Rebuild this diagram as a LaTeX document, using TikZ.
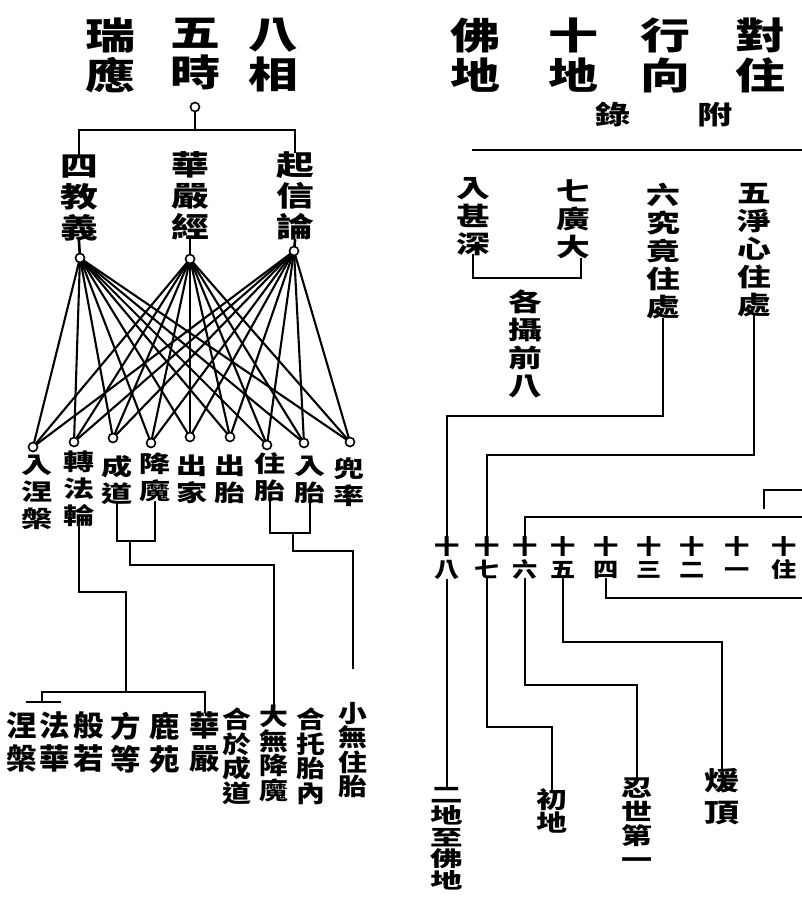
\documentclass[tikz,border=0pt]{standalone}
\usepackage{fontspec}
\newfontfamily\cjkA{Noto Sans CJK TC}[FakeStretch=1.35]
\newfontfamily\cjkB{Noto Sans CJK TC}[FakeStretch=1.05]
\newfontfamily\cjkC{Noto Sans CJK TC}[FakeStretch=1.2]
\newfontfamily\cjkD{Noto Sans CJK TC}[FakeStretch=1.55]
\tikzset{
  vt/.style={inner sep=0pt, outer sep=0pt, align=center, anchor=north},
  title/.style={vt, font=\cjkA\bfseries\fontsize{37}{40}\selectfont},
  sub/.style={inner sep=0pt, font=\cjkA\bfseries\fontsize{26}{28}\selectfont},
  mid/.style={vt, font=\cjkA\bfseries\fontsize{28}{31}\selectfont},
  low/.style={vt, font=\cjkA\bfseries\fontsize{23}{27}\selectfont},
  bltwo/.style={vt, font=\cjkB\bfseries\fontsize{29}{33}\selectfont},
  blfour/.style={vt, font=\cjkC\bfseries\fontsize{24}{24.5}\selectfont},
  rlab/.style={vt, font=\cjkA\bfseries\fontsize{25}{28}\selectfont},
  num/.style={vt, font=\cjkC\bfseries\fontsize{21}{23}\selectfont},
  ln/.style={line width=2.6pt, line cap=rect},
  cross/.style={line width=2.1pt},
  dot/.style={circle, draw, line width=1.6pt, minimum size=9pt, inner sep=0pt, fill=white}
}
\begin{document}
\begin{tikzpicture}[x=1pt,y=-1pt]
\useasboundingbox (0,0) rectangle (802,900);
% ---------- left titles
\node[title] (tbx) at (273,18) {八\\相};
\node[title] (twu) at (195,18) {五\\時};
\node[title] (tru) at (110,18) {瑞\\應};
% ---------- right titles
\node[title] (tdz) at (760,18) {對\\住};
\node[title] (txx) at (665,18) {行\\向};
\node[title] (tsd) at (573,18) {十\\地};
\node[title] (tfd) at (475,18) {佛\\地};
\node[sub] (fu) at (715,115) {附};
\node[sub] (lu) at (613,115) {錄};
\coordinate (hla) at (473,150); \coordinate (hlb) at (802,150);
\draw[ln] (hla) -- (hlb);
% ---------- top-left tree
\coordinate (hm) at (195,130);
\coordinate (hL) at (79,130); \coordinate (hR) at (295,130);
\draw[ln] (195,107) -- (hm);
\draw[ln] (hL) -- (hR);
\node[dot] (c0) at (195,107) {};
\node[mid] (sj) at (79,155) {四\\教\\義};
\node[mid] (hy) at (190,152) {華\\嚴\\經};
\node[mid] (qx) at (295,152) {起\\信\\論};
\draw[ln] (hL) -- (sj.north);
\draw[ln] (hR) -- (qx.north);
\coordinate (A) at (80,258);
\coordinate (B) at (190,259);
\coordinate (C) at (294,251);
\draw[ln] (sj.south) -- (A);
\draw[ln] (hy.south) -- (B);
\draw[ln] (qx.south) -- (C);
% bottom circle centres
\coordinate (b1) at (33,447);
\coordinate (b2) at (74,442);
\coordinate (b3) at (113,438);
\coordinate (b4) at (151,443);
\coordinate (b5) at (190,437);
\coordinate (b6) at (230,437);
\coordinate (b7) at (267,445);
\coordinate (b8) at (304,443);
\coordinate (b9) at (350,442);
\foreach \t in {A,B,C}{
  \foreach \b in {b1,b2,b3,b4,b5,b6,b7,b8,b9}{
    \draw[cross] (\t) -- (\b);
  }
}
\foreach \n in {A,B,C,b1,b2,b3,b4,b5,b6,b7,b8,b9}{
  \node[dot] (d\n) at (\n) {};
}
% bottom labels of 八相
\node[low] (l1) at (37,455) {入\\涅\\槃};
\node[low] (l2) at (79,451) {轉\\法\\輪};
\node[low] (l3) at (117,455) {成\\道};
\node[low] (l4) at (155,453) {降\\魔};
\node[low] (l5) at (192,455) {出\\家};
\node[low] (l6) at (230,455) {出\\胎};
\node[low] (l7) at (270,453) {住\\胎};
\node[low] (l8) at (310,456) {入\\胎};
\node[low] (l9) at (349,458) {兜\\率};
% lower-left connectors
\coordinate (j1) at (126,592);
\coordinate (bM) at (126,692);
\coordinate (bL) at (42,692); \coordinate (bR) at (205,692);
\coordinate (sM) at (42,702); \coordinate (sL) at (27,702); \coordinate (sR) at (60,702);
\draw[ln] (l2.south) |- (j1);
\draw[ln] (j1) -- (bM);
\draw[ln] (bL) -- (bR);
\draw[ln] (bL) -- (sM);
\draw[ln] (sL) -- (sR);
\coordinate (j2) at (130,541);
\coordinate (k1) at (130,565);
\draw[ln] (l3.south) |- (j2) -| (l4.south);
\coordinate (j4) at (293,533);
\coordinate (k2) at (293,551);
\coordinate (e1) at (353,668);
\draw[ln] (l7.south) |- (j4) -| (l8.south);
\draw[ln] (j4) -- (k2) -| (e1);
% bottom-left labels
\node[bltwo] (h1) at (22,712) {涅\\槃};
\node[bltwo] (h2) at (55,712) {法\\華};
\node[bltwo] (h3) at (89,712) {般\\若};
\node[bltwo] (h4) at (126,712) {方\\等};
\node[bltwo] (h5) at (165,712) {鹿\\苑};
\node[bltwo] (h6) at (205,712) {華\\嚴};
\draw[ln] (bR) -- (h6.north);
\node[blfour] (m1) at (237,708) {合\\於\\成\\道};
\node[blfour] (m2) at (274,705) {大\\無\\降\\魔};
\node[blfour] (m3) at (311,708) {合\\托\\胎\\內};
\node[blfour] (m4) at (353,702) {小\\無\\住\\胎};
\draw[ln] (j2) -- (k1) -| (m2.north);
% ---------- right side
\node[rlab] (rs) at (473,177) {入\\甚\\深};
\node[rlab] (qg) at (573,180) {七\\廣\\大};
\coordinate (q2) at (581,278);
\draw[ln] (rs.south) |- (q2) -- (q2 |- qg.south);
\node[rlab] (gs) at (525,290) {各\\攝\\前\\八};
\node[rlab] (lj) at (663,183) {六\\究\\竟\\住\\處};
\node[rlab] (wj) at (754,183) {五\\淨\\心\\住\\處};
% numbers
\node[num] (n18) at (447,537) {十\\八};
\node[num] (n17) at (487,537) {十\\七};
\node[num] (n16) at (525,537) {十\\六};
\node[num] (n15) at (563,537) {十\\五};
\node[num] (n14) at (606,537) {十\\四};
\node[num] (n13) at (649,537) {十\\三};
\node[num] (n12) at (692,537) {十\\二};
\node[num] (n11) at (737,537) {十\\一};
\node[num] (n10) at (784,537) {十\\住};
\coordinate (r1) at (0,416);
\coordinate (r2) at (0,455);
\draw[ln] (lj.south) |- (n18.north |- r1) -- (n18.north);
\draw[ln] (wj.south) |- (n17.north |- r2) -- (n17.north);
\coordinate (r3) at (802,517);
\draw[ln] (n16.north) |- (r3);
\coordinate (u1) at (764,508); \coordinate (u2) at (764,490); \coordinate (u3) at (802,490);
\draw[ln] (u1) -- (u2) -- (u3);
\coordinate (r7) at (802,598);
\draw[ln] (n14.south) |- (r7);
% bottom-right labels
\node[vt, font=\cjkD\bfseries\fontsize{21}{21.5}\selectfont] (ed) at (447,787) {二\\地\\至\\佛\\地};
\node[vt, font=\cjkA\bfseries\fontsize{23}{23}\selectfont] (chu) at (552,789) {初\\地};
\node[vt, font=\cjkA\bfseries\fontsize{23}{24}\selectfont] (ren) at (637,778) {忍\\世\\第\\一};
\node[vt, font=\cjkA\bfseries\fontsize{26}{32}\selectfont] (nu) at (722,768) {煖\\頂};
\coordinate (r4) at (0,727);
\coordinate (r5) at (0,685);
\coordinate (r6) at (0,642);
\draw[ln] (n18.south) -- (ed.north);
\draw[ln] (n17.south) |- (chu.north |- r4) -- (chu.north);
\draw[ln] (n16.south) |- (ren.north |- r5) -- (ren.north);
\draw[ln] (n15.south) |- (nu.north |- r6) -- (nu.north);
\end{tikzpicture}
\end{document}
